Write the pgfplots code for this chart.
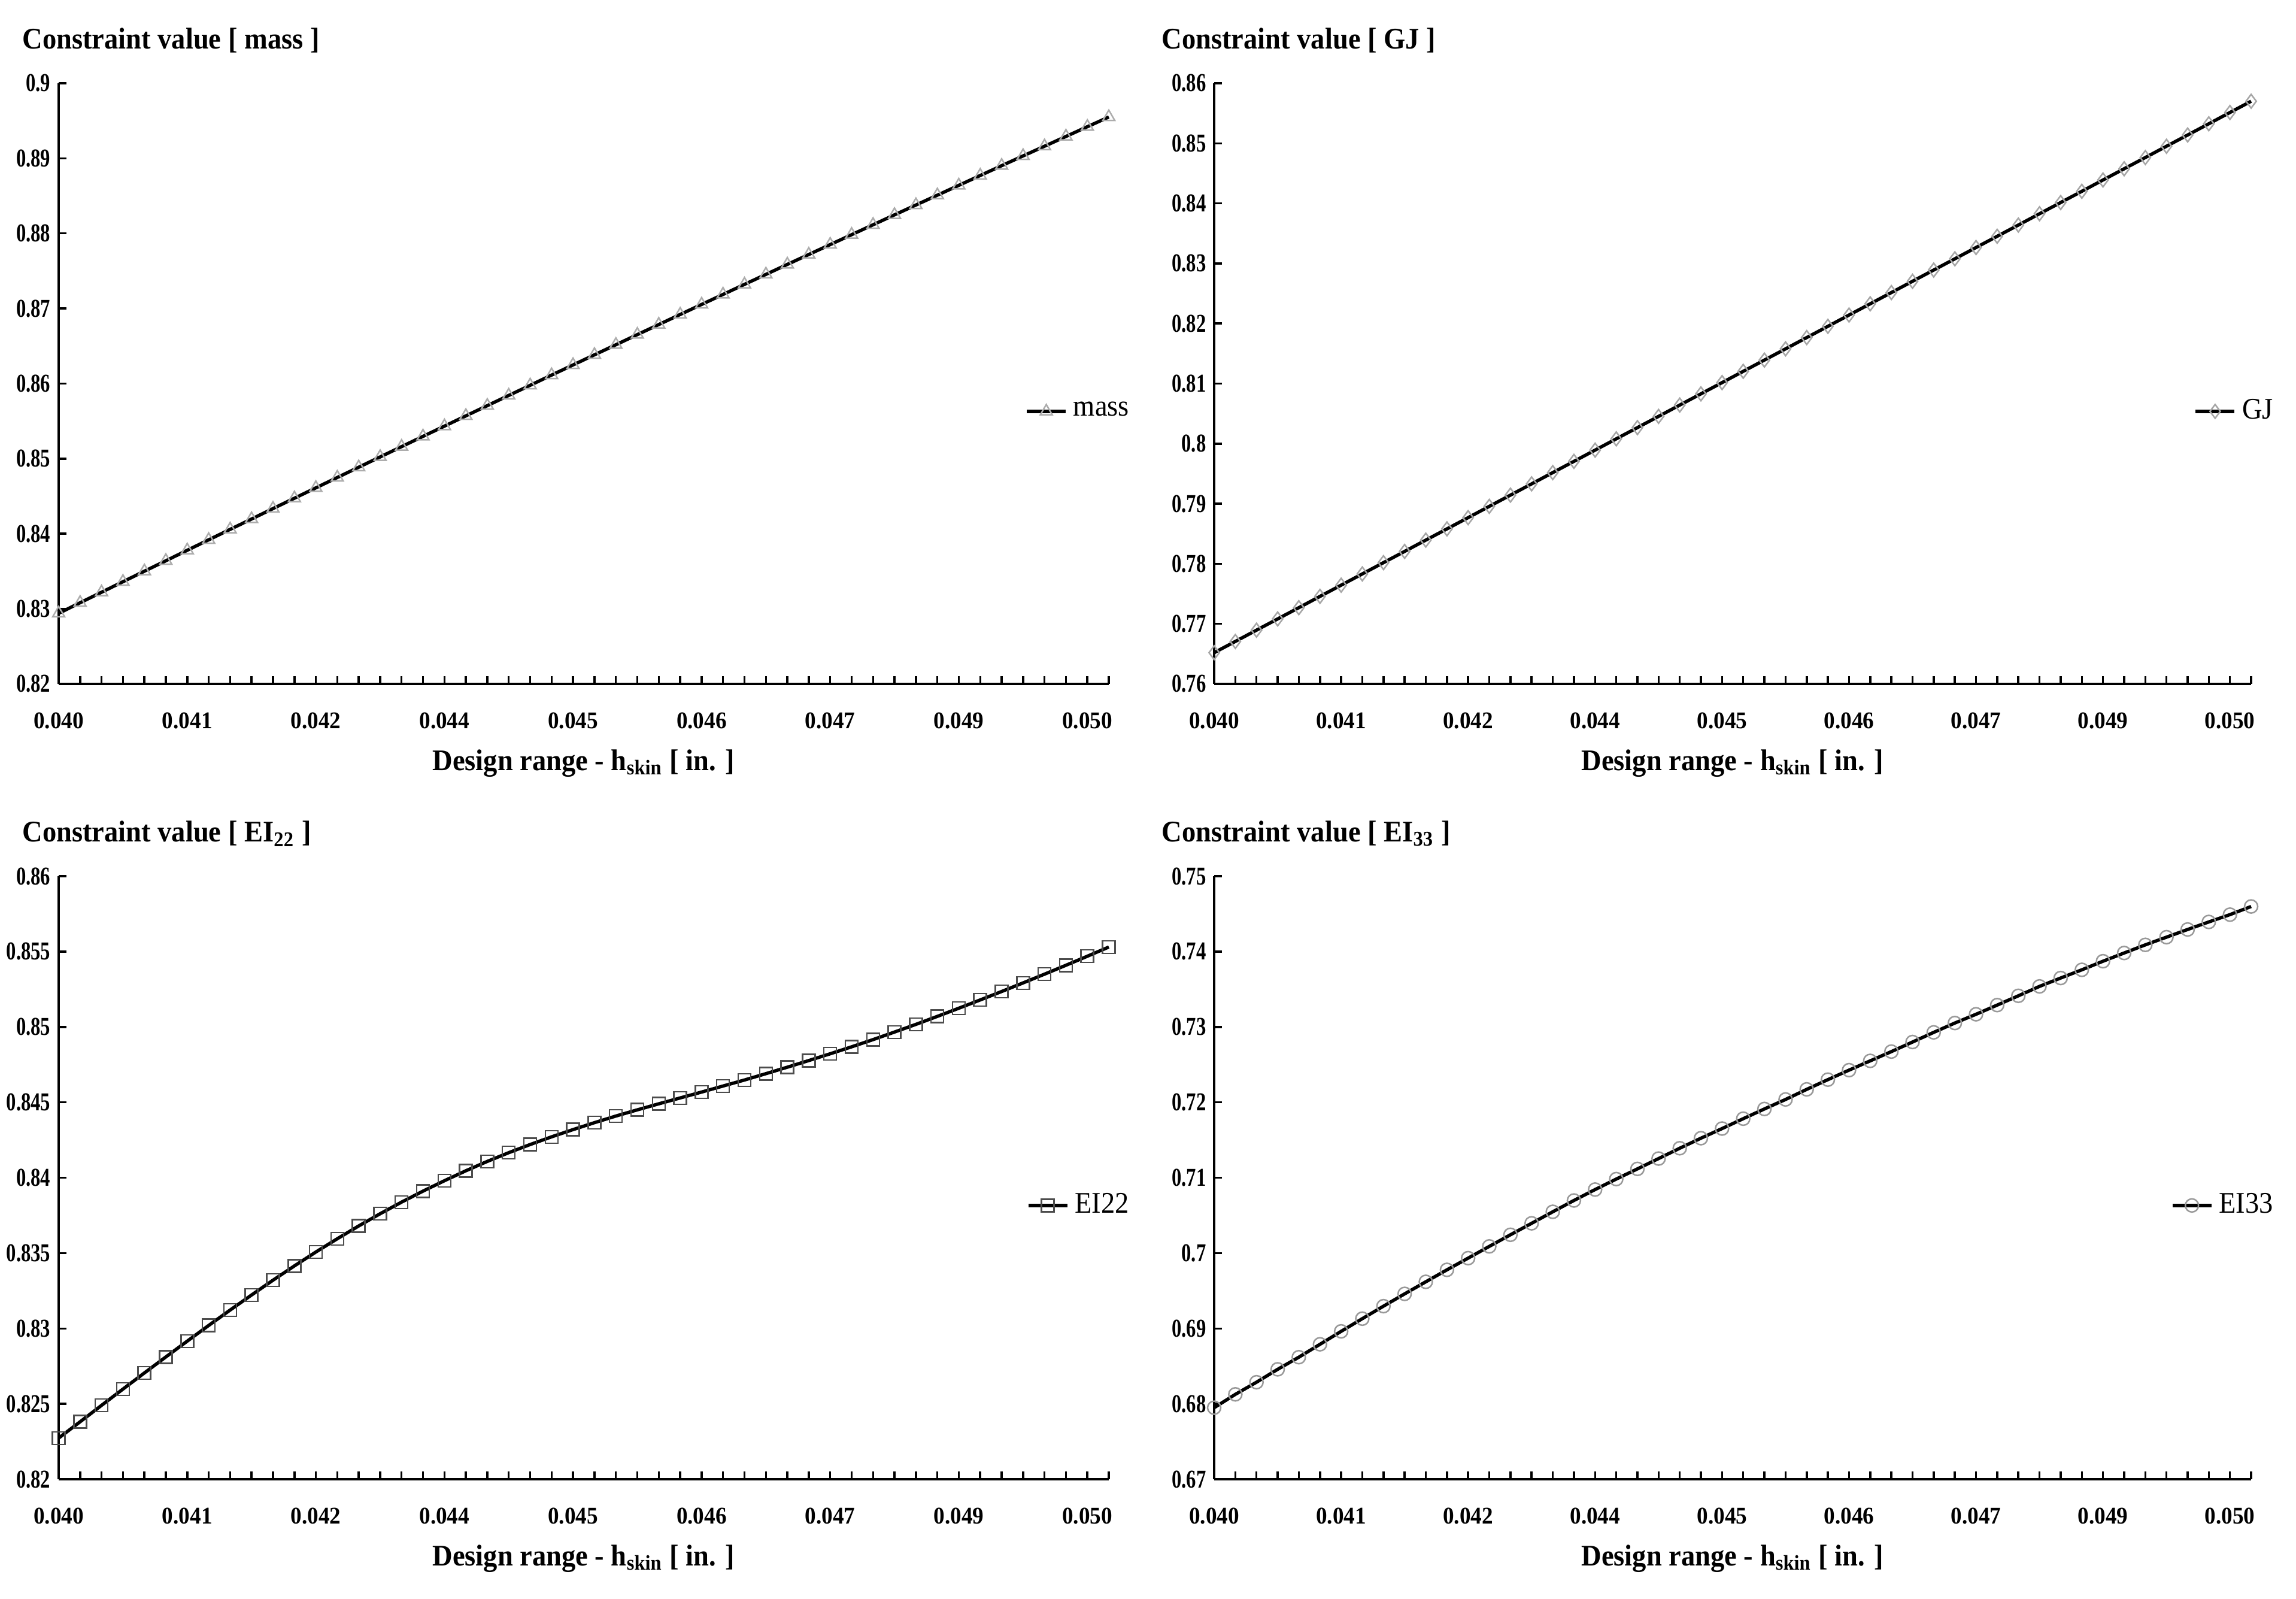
\documentclass[border=0pt]{standalone}
\usepackage{fontspec}
\setmainfont{Liberation Serif}[FakeStretch=0.93]
\newfontfamily\ytickfont{Liberation Serif}[FakeStretch=0.76]
\usepackage{pgfplots}
\usepackage{pgfplotstable}
\pgfplotsset{compat=1.18}

\pgfplotstableread{
x mass GJ EI22 EI33
0.0400000 0.82940 0.76520 0.82273 0.67949
0.0402083 0.83081 0.76707 0.82381 0.68126
0.0404167 0.83221 0.76895 0.82490 0.68287
0.0406250 0.83361 0.77082 0.82598 0.68458
0.0408333 0.83501 0.77269 0.82705 0.68619
0.0410417 0.83640 0.77457 0.82811 0.68790
0.0412500 0.83780 0.77644 0.82916 0.68962
0.0414583 0.83919 0.77831 0.83020 0.69130
0.0416667 0.84058 0.78019 0.83122 0.69296
0.0418750 0.84196 0.78206 0.83222 0.69459
0.0420833 0.84335 0.78394 0.83320 0.69619
0.0422917 0.84473 0.78581 0.83415 0.69778
0.0425000 0.84611 0.78768 0.83507 0.69933
0.0427083 0.84749 0.78956 0.83595 0.70089
0.0429167 0.84886 0.79143 0.83680 0.70243
0.0431250 0.85023 0.79330 0.83761 0.70395
0.0433333 0.85160 0.79518 0.83838 0.70548
0.0435417 0.85297 0.79705 0.83911 0.70698
0.0437500 0.85433 0.79892 0.83980 0.70843
0.0439583 0.85570 0.80080 0.84046 0.70982
0.0441667 0.85706 0.80267 0.84108 0.71117
0.0443750 0.85842 0.80454 0.84166 0.71254
0.0445833 0.85977 0.80642 0.84220 0.71391
0.0447917 0.86113 0.80829 0.84271 0.71524
0.0450000 0.86248 0.81016 0.84319 0.71652
0.0452083 0.86383 0.81204 0.84365 0.71783
0.0454167 0.86517 0.81391 0.84409 0.71912
0.0456250 0.86652 0.81578 0.84450 0.72038
0.0458333 0.86786 0.81766 0.84490 0.72172
0.0460417 0.86920 0.81953 0.84529 0.72301
0.0462500 0.87054 0.82141 0.84568 0.72427
0.0464583 0.87187 0.82328 0.84608 0.72550
0.0466667 0.87321 0.82515 0.84648 0.72673
0.0468750 0.87454 0.82703 0.84690 0.72800
0.0470833 0.87587 0.82890 0.84733 0.72928
0.0472917 0.87719 0.83077 0.84777 0.73052
0.0475000 0.87851 0.83265 0.84822 0.73168
0.0477083 0.87983 0.83452 0.84868 0.73290
0.0479167 0.88115 0.83639 0.84916 0.73413
0.0481250 0.88247 0.83827 0.84966 0.73538
0.0483333 0.88378 0.84014 0.85017 0.73649
0.0485417 0.88509 0.84201 0.85070 0.73758
0.0487500 0.88640 0.84389 0.85124 0.73872
0.0489583 0.88771 0.84576 0.85179 0.73981
0.0491667 0.88902 0.84763 0.85235 0.74089
0.0493750 0.89032 0.84951 0.85292 0.74191
0.0495833 0.89161 0.85138 0.85350 0.74293
0.0497917 0.89291 0.85325 0.85409 0.74393
0.0500000 0.89421 0.85513 0.85469 0.74490
0.0502083 0.89550 0.85700 0.85530 0.74598
}\datatable

\pgfplotsset{
  panel/.style={
    scale only axis,
    clip=false,
    axis x line*=bottom,
    axis y line*=left,
    axis line style={-, line width=0.8pt, black},
    tick align=inside,
    major tick length=2.6pt,
    tick style={line width=0.7pt, black},
    xtick pos=bottom, ytick pos=left,
    xmin=0.04, xmax=0.0502083,
    xtick=data,
    xticklabels={0.040,{},{},{},{},{},0.041,{},{},{},{},{},0.042,{},{},{},{},{},0.044,{},{},{},{},{},0.045,{},{},{},{},{},0.046,{},{},{},{},{},0.047,{},{},{},{},{},0.049,{},{},{},{},{},0.050,{}},
    scaled x ticks=false, scaled y ticks=false,
    xticklabel style={font=\bfseries\fontsize{8}{9}\selectfont, anchor=center, yshift=-12.2pt},
    /pgf/number format/assume math mode=true,
    yticklabel style={font=\ytickfont\bfseries\fontsize{8.6}{9}\selectfont, /pgf/number format/fixed, /pgf/number format/precision=3, anchor=east, xshift=0.8pt},
    xlabel={Design range - h\textsubscript{skin} [ in. ]},
    xlabel style={font=\bfseries\fontsize{10}{12}\selectfont, at={(rel axis cs:0.5,0)}, anchor=center, yshift=-26.5pt},
    title style={font=\bfseries\fontsize{10}{12}\selectfont, at={(rel axis cs:0,1)}, anchor=west, yshift=8.2pt},
    legend style={draw=none, fill=none, inner sep=0pt, outer sep=0pt, font=\fontsize{10}{12}\selectfont, legend cell align=left},
    legend image code/.code={\draw[##1,mark repeat=2,mark phase=2] plot coordinates {(0pt,0pt) (6.5pt,0pt) (13pt,0pt)};},
    every axis plot/.append style={line width=1.1pt, black},
  }
}

\begin{document}
\begin{tikzpicture}
\useasboundingbox (0pt,0pt) rectangle (767pt,-534pt);

% top-left: mass
\begin{axis}[panel, at={(19.6pt,-228.4pt)}, anchor=south west, width=350.8pt, height=200.6pt,
  ymin=0.82, ymax=0.9, ytick distance=0.01,
  title={Constraint value [ mass ]}, title style={xshift=-15.6pt},
  legend style={at={(rel axis cs:1.025,0.4537)}, anchor=east}]
\addplot[mark=triangle, mark size=2.3pt, mark options={solid, draw=gray!65, fill=none, line width=0.5pt}] table[x=x, y=mass] {\datatable};
\addlegendentry{mass}
\end{axis}

% top-right: GJ
\begin{axis}[panel, at={(405.6pt,-228.4pt)}, anchor=south west, width=346.4pt, height=200.6pt,
  ymin=0.76, ymax=0.86, ytick distance=0.01,
  title={Constraint value [ GJ ]}, title style={xshift=-21pt},
  legend style={at={(rel axis cs:1.027,0.4537)}, anchor=east}]
\addplot[mark=diamond, mark size=2.3pt, mark options={solid, draw=gray!70, fill=none, line width=0.5pt}] table[x=x, y=GJ] {\datatable};
\addlegendentry{GJ}
\end{axis}

% bottom-left: EI22
\begin{axis}[panel, at={(19.6pt,-494pt)}, anchor=south west, width=350.8pt, height=201.4pt,
  ymin=0.82, ymax=0.86, ytick distance=0.005,
  title={Constraint value [ EI\textsubscript{22} ]}, title style={xshift=-15.6pt},
  legend style={at={(rel axis cs:1.025,0.454)}, anchor=east}]
\addplot[mark=square, mark size=2.1pt, mark options={solid, draw=black!70, fill=none, line width=0.5pt}] table[x=x, y=EI22] {\datatable};
\addlegendentry{EI22}
\end{axis}

% bottom-right: EI33
\begin{axis}[panel, at={(405.6pt,-494pt)}, anchor=south west, width=346.4pt, height=201.4pt,
  ymin=0.67, ymax=0.75, ytick distance=0.01,
  title={Constraint value [ EI\textsubscript{33} ]}, title style={xshift=-21pt},
  legend style={at={(rel axis cs:1.027,0.454)}, anchor=east}]
\addplot[mark=o, mark size=2.2pt, mark options={solid, draw=gray!80, fill=none, line width=0.5pt}] table[x=x, y=EI33] {\datatable};
\addlegendentry{EI33}
\end{axis}
\end{tikzpicture}
\end{document}
